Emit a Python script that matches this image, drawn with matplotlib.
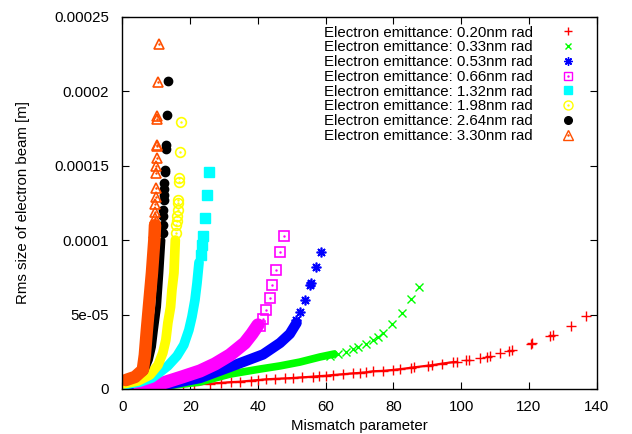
import matplotlib
matplotlib.use("Agg")
import matplotlib.pyplot as plt
from matplotlib.lines import Line2D

plt.rcParams['font.family'] = ['Liberation Sans', 'DejaVu Sans']
plt.rcParams['font.size'] = 10.8

# ---- data ----
# dense part of each series (centre of the band) and the separate markers
red_x = [0.5, 3, 6, 8.1, 11, 14, 17.9, 21, 25.8, 29, 32, 34.7, 38, 40, 42.5, 45, 48,
         50.4, 53, 56.3, 58, 60, 62.2, 65, 68.1, 70, 72, 74, 77, 79.9, 82, 85.3, 86,
         90.2, 91.5, 94.2, 97.5, 98.8, 101.3, 102.2, 105.5, 107.5, 108.5, 111.4, 114,
         115, 120.5, 121, 126.3, 127.2, 132.3, 136.8]
red_y = [3e-7, 5e-7, 8e-7, 1.1e-6, 1.5e-6, 1.8e-6, 2.2e-6, 2.8e-6, 3.6e-6, 4.1e-6, 4.6e-6,
         4.9e-6, 5.6e-6, 6.0e-6, 6.5e-6, 6.8e-6, 7.1e-6, 7.4e-6, 7.8e-6, 8.3e-6, 8.6e-6,
         8.9e-6, 9.4e-6, 9.9e-6, 1.05e-5, 1.08e-5, 1.12e-5, 1.19e-5, 1.22e-5, 1.28e-5,
         1.33e-5, 1.43e-5, 1.45e-5, 1.57e-5, 1.6e-5, 1.7e-5, 1.8e-5, 1.82e-5, 1.95e-5,
         1.97e-5, 2.1e-5, 2.18e-5, 2.24e-5, 2.44e-5, 2.55e-5, 2.62e-5, 3.0e-5, 3.06e-5,
         3.53e-5, 3.6e-5, 4.23e-5, 4.9e-5]

green_bx = [0, 3.1, 13, 22.9, 31.7, 40.6, 46.5, 52.4, 58.3, 62.5]
green_by = [0, 7e-7, 2e-6, 4.7e-6, 1.0e-5, 1.34e-5, 1.55e-5, 1.81e-5, 2.15e-5, 2.35e-5]
green_px = [61.2, 63.5, 66.1, 68, 69.6, 72, 74, 75.5, 76.9, 79.6, 82.4, 85.3, 87.6]
green_py = [2.2e-5, 2.35e-5, 2.51e-5, 2.7e-5, 2.84e-5, 3.05e-5, 3.29e-5, 3.5e-5, 3.74e-5,
            4.35e-5, 5.13e-5, 6.03e-5, 6.88e-5]

blue_bx = [2.2, 12.5, 22.9, 31.7, 41.5, 46.5, 49.4, 51.4]
blue_by = [3e-7, 2.7e-6, 7.4e-6, 1.48e-5, 2.32e-5, 3.09e-5, 3.7e-5, 4.44e-5]
blue_px = [51.2, 52.3, 54.0, 55.4, 55.6, 57.1, 58.5]
blue_py = [4.6e-5, 5.2e-5, 6.0e-5, 6.95e-5, 7.1e-5, 8.2e-5, 9.2e-5]

magenta_bx = [5.2, 11.1, 17.6, 22.9, 27.3, 31.7, 36.1, 38.2, 40.0]
magenta_by = [7e-7, 3.4e-6, 8.1e-6, 1.21e-5, 1.68e-5, 2.28e-5, 3.09e-5, 3.7e-5, 4.3e-5]
magenta_px = [40.6, 41.5, 42.4, 43.5, 44.2, 45.3, 46.6, 47.6]
magenta_py = [4.2e-5, 4.7e-5, 5.3e-5, 6.13e-5, 6.97e-5, 8.0e-5, 9.2e-5, 1.03e-4]

cyan_bx = [0.1, 5.2, 8.7, 11.1, 13.4, 16.1, 18.1, 19.6, 20.5, 21.4, 22.0, 22.6]
cyan_by = [2.7e-6, 4.7e-6, 7.4e-6, 1.14e-5, 1.55e-5, 2.22e-5, 2.96e-5, 3.96e-5, 4.84e-5,
           5.98e-5, 7.1e-5, 8.5e-5]
cyan_px = [23.1, 23.4, 23.8, 24.4, 25.0, 25.5]
cyan_py = [9.0e-5, 9.7e-5, 1.03e-4, 1.15e-4, 1.30e-4, 1.46e-4]

yellow_bx = [0.1, 4.6, 8.1, 10.5, 11.9, 12.8, 13.4, 14.2, 14.6, 15.2, 15.6]
yellow_by = [3.4e-6, 5.4e-6, 9.4e-6, 1.61e-5, 2.42e-5, 3.29e-5, 4.44e-5, 5.51e-5, 6.65e-5,
             7.8e-5, 1.0e-4]
yellow_px = [15.8, 15.9, 16.1, 16.2, 16.3, 16.4, 16.4, 16.6, 16.6, 17.0, 17.3]
yellow_py = [1.05e-4, 1.10e-4, 1.13e-4, 1.16e-4, 1.20e-4, 1.25e-4, 1.27e-4, 1.39e-4,
             1.42e-4, 1.59e-4, 1.79e-4]

black_bx = [0.1, 3.7, 6.6, 8.1, 9.0, 9.6, 10.5, 11.2, 11.8]
black_by = [4.7e-6, 6.7e-6, 1.14e-5, 1.95e-5, 2.82e-5, 3.96e-5, 5.51e-5, 7.8e-5, 1.0e-4]
black_px = [11.9, 11.9, 12.0, 12.0, 12.3, 12.3, 12.3, 12.3, 12.5, 12.6, 12.8, 12.8, 13.2, 13.3]
black_py = [1.05e-4, 1.10e-4, 1.16e-4, 1.20e-4, 1.27e-4, 1.30e-4, 1.34e-4, 1.38e-4,
            1.46e-4, 1.47e-4, 1.61e-4, 1.64e-4, 1.84e-4, 2.07e-4]

orange_bx = [1.0, 3.7, 6.0, 6.6, 7.2, 7.8, 8.7, 9.4, 9.6]
orange_by = [6.0e-6, 8.1e-6, 1.28e-5, 2.28e-5, 3.96e-5, 5.51e-5, 7.8e-5, 1.0e-4, 1.1e-4]
orange_px = [9.4, 9.5, 9.5, 9.6, 9.6, 9.8, 9.8, 10.0, 10.0, 10.1, 10.1, 10.1, 10.3, 10.3,
             10.6, 10.9]
orange_py = [1.05e-4, 1.10e-4, 1.15e-4, 1.19e-4, 1.24e-4, 1.29e-4, 1.35e-4, 1.45e-4,
             1.50e-4, 1.55e-4, 1.63e-4, 1.64e-4, 1.81e-4, 1.83e-4, 2.06e-4, 2.32e-4]

labels = ["Electron emittance: 0.20nm rad", "Electron emittance: 0.33nm rad",
          "Electron emittance: 0.53nm rad", "Electron emittance: 0.66nm rad",
          "Electron emittance: 1.32nm rad", "Electron emittance: 1.98nm rad",
          "Electron emittance: 2.64nm rad", "Electron emittance: 3.30nm rad"]

x_ticks = [0, 20, 40, 60, 80, 100, 120, 140]
y_ticks = [0, 5e-5, 1e-4, 1.5e-4, 2e-4, 2.5e-4]
y_tick_labels = ["0", "5e-05", "0.0001", "0.00015", "0.0002", "0.00025"]

RED, GREEN, BLUE, MAG = "#ff0000", "#00ff00", "#0000ff", "#ff00ff"
CYAN, YEL, BLK, ORA = "#00ffff", "#ffff00", "#000000", "#ff4f00"

fig = plt.figure(figsize=(6.32, 4.34), dpi=100)
ax = fig.add_axes([0.1938, 0.1037, 0.7503, 0.8578])

band = dict(solid_capstyle="round", solid_joinstyle="round")

# red: crosses, dense part joined
ax.plot(red_x[:38], red_y[:38], color=RED, lw=1.6, **band)
ax.plot(red_x, red_y, "+", color=RED, ms=7, mew=1)

ax.plot(green_bx, green_by, color=GREEN, lw=5.5, **band)
ax.plot(green_px, green_py, "x", color=GREEN, ms=6, mew=1)

ax.plot(blue_bx, blue_by, color=BLUE, lw=7.5, **band)
ax.plot(blue_px, blue_py, marker=(8, 2, 0), ls="none", color=BLUE, ms=7, mew=1.2)

ax.plot(magenta_bx, magenta_by, color=MAG, lw=9.5, **band)
ax.plot(magenta_px, magenta_py, "s", mfc="none", mec=MAG, ms=7, mew=1.2)
ax.plot(magenta_px, magenta_py, ".", color=MAG, ms=1.5)

ax.plot(cyan_bx, cyan_by, color=CYAN, lw=7, **band)
ax.plot(cyan_px, cyan_py, "s", color=CYAN, ms=6.5)

ax.plot(yellow_bx, yellow_by, color=YEL, lw=7, **band)
ax.plot(yellow_px, yellow_py, "o", mfc="none", mec=YEL, ms=7, mew=1.2)
ax.plot(yellow_px, yellow_py, ".", color=YEL, ms=1.5)

ax.plot(black_bx, black_by, color=BLK, lw=4.3, **band)
ax.plot(black_px, black_py, "o", color=BLK, ms=6)

ax.plot(orange_bx, orange_by, color=ORA, lw=9, **band)
ax.plot(orange_px, orange_py, "^", mfc="none", mec=ORA, ms=7, mew=1.2)
ax.plot(orange_px, orange_py, ".", color=ORA, ms=1.5)

# legend proxies
def mk(marker, color, filled=False, ms=6):
    if filled:
        return Line2D([], [], ls="none", marker=marker, color=color, ms=ms)
    return Line2D([], [], ls="none", marker=marker, mfc="none", mec=color, ms=ms, mew=1)

def dot(color):
    return Line2D([], [], ls="none", marker=".", color=color, ms=1.5)

handles = [
    Line2D([], [], ls="none", marker="+", color=RED, ms=6, mew=1),
    Line2D([], [], ls="none", marker="x", color=GREEN, ms=5, mew=1),
    Line2D([], [], ls="none", marker=(8, 2, 0), color=BLUE, ms=6, mew=1),
    (mk("s", MAG, ms=6), dot(MAG)),
    mk("s", CYAN, filled=True, ms=5.5),
    (mk("o", YEL, ms=6.5), dot(YEL)),
    mk("o", BLK, filled=True, ms=5.5),
    (mk("^", ORA, ms=6.5), dot(ORA)),
]
ax.legend(handles, labels, loc="upper right", bbox_to_anchor=(0.985, 1.004),
          frameon=False, markerfirst=False, labelspacing=0.05, handlelength=1.5,
          handletextpad=1.6, borderpad=0.2, fontsize=10.8)

ax.set_xlim(0, 140)
ax.set_ylim(0, 0.00025)
ax.set_xticks(x_ticks)
ax.set_yticks(y_ticks, y_tick_labels)
ax.tick_params(direction="in", top=True, right=True, length=5, width=0.8,
               labelsize=10.8, colors="black")
ax.tick_params(axis="y", pad=9.5)
ax.tick_params(axis="x", pad=8)
for s in ax.spines.values():
    s.set_linewidth(1)

ax.set_xlabel("Mismatch parameter")
ax.set_ylabel("Rms size of electron beam [m]")
ax.xaxis.set_label_coords(0.5, -0.081)
ax.yaxis.set_label_coords(-0.195, 0.5)

fig.savefig("out.png", dpi=100)
